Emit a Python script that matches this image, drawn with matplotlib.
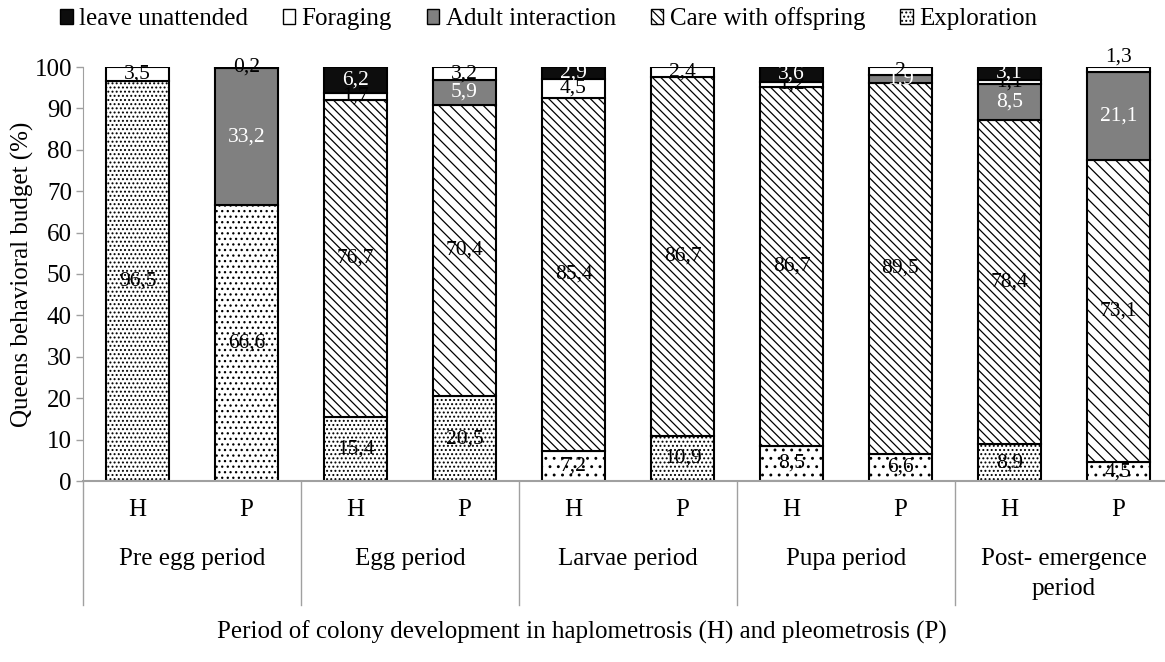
import numpy as np
import matplotlib
matplotlib.use('Agg')
import matplotlib.pyplot as plt
from matplotlib.patches import Patch
import matplotlib.transforms as mtrans

plt.rcParams['font.family'] = ['Liberation Serif', 'DejaVu Serif']
plt.rcParams['hatch.linewidth'] = 0.9

# data (%)
sub_labels = ['H', 'P'] * 5
periods = ['Pre egg period', 'Egg period', 'Larvae period', 'Pupa period',
           'Post- emergence\nperiod']
exploration = [96.5, 66.6, 15.4, 20.5, 7.2, 10.9, 8.5, 6.6, 8.9, 4.5]
care = [0, 0, 76.7, 70.4, 85.4, 86.7, 86.7, 89.5, 78.4, 73.1]
adult = [0, 33.2, 0, 5.9, 0, 0, 0, 1.9, 8.5, 21.1]
foraging = [3.5, 0, 1.7, 3.2, 4.5, 2.4, 1.2, 2, 1.1, 1.3]
leave = [0, 0.2, 6.2, 0, 2.9, 0, 3.6, 0, 3.1, 0]

# hatch per bar (density differs in the original)
expl_hatch = ['....', '...', '....', '....', '..', '....', '..', '..', '....', '..']
care_hatch = ['\\\\\\\\'] * 10
care_hatch[3] = '\\\\\\'
care_hatch[9] = '\\\\\\'

fs = 18      # axis / legend text
fs_val = 15.5  # value labels

fig = plt.figure(figsize=(11.65, 6.62), dpi=100)
ax = fig.add_axes([83/1165, 1-481/662, 1090/1165, 414/662])

x = np.arange(10)
w = 0.58
series = [('Exploration', exploration, 'white', 'black'),
          ('Care with offspring', care, 'white', 'black'),
          ('Adult interaction', adult, '#808080', 'white'),
          ('Foraging', foraging, 'white', 'black'),
          ('leave unattended', leave, '#0d0d0d', 'white')]

bottom = np.zeros(10)
for name, vals, col, tcol in series:
    vals = np.array(vals, dtype=float)
    for i in range(10):
        if vals[i] <= 0:
            continue
        h = None
        if name == 'Exploration':
            h = expl_hatch[i]
        elif name == 'Care with offspring':
            h = care_hatch[i]
        ax.bar(x[i], vals[i], w, bottom=bottom[i], color=col, edgecolor='black',
               linewidth=1.5, hatch=h, zorder=2)
        ypos = bottom[i] + vals[i]/2
        if name == 'Foraging' and i == 9:
            ypos = 102.3
        if name == 'leave unattended' and i == 1:
            tcol_i = 'black'
        else:
            tcol_i = tcol
        lab = ('%g' % vals[i]).replace('.', ',')
        ax.text(x[i], ypos, lab, ha='center', va='center', fontsize=fs_val,
                color=tcol_i, zorder=3)
    bottom += vals

ax.set_ylim(0, 100)
ax.set_xlim(-0.5, 9.5)
ax.set_yticks(np.arange(0, 101, 10))
ax.tick_params(axis='y', labelsize=fs, color='#a0a0a0', length=5, width=1, pad=3)
ax.set_ylabel('Queens behavioral budget (%)', fontsize=fs, labelpad=0)
for s in ['top', 'right']:
    ax.spines[s].set_visible(False)
ax.spines['left'].set_color('#a0a0a0')
ax.spines['bottom'].set_color('#a0a0a0')
ax.spines['bottom'].set_linewidth(1.5)

ax.set_xticks(x)
ax.set_xticklabels(sub_labels, fontsize=fs)
ax.tick_params(axis='x', length=0, pad=13)

trans = mtrans.blended_transform_factory(ax.transData, ax.transAxes)
for sep in np.arange(-0.5, 10, 2):
    ax.plot([sep, sep], [0, -0.30], transform=trans, color='#a0a0a0',
            linewidth=1, clip_on=False)
for k, p in enumerate(periods):
    ax.text(2*k + 0.5, -(548-481)/414, p, transform=trans, ha='center', va='top',
            fontsize=fs, linespacing=1.5)

fig.text(582/1165, 1-632/662, 'Period of colony development in haplometrosis (H) and pleometrosis (P)',
         ha='center', va='center', fontsize=fs)

handles = [Patch(facecolor='#0d0d0d', edgecolor='black', label='leave unattended'),
           Patch(facecolor='white', edgecolor='black', label='Foraging'),
           Patch(facecolor='#808080', edgecolor='black', label='Adult interaction'),
           Patch(facecolor='white', edgecolor='black', hatch='\\\\\\\\', label='Care with offspring'),
           Patch(facecolor='white', edgecolor='black', hatch='....', label='Exploration')]
fig.legend(handles=handles, loc='center left', bbox_to_anchor=(60/1165, 1-19/662),
           ncol=5, frameon=False, fontsize=fs, handlelength=0.5, handleheight=0.5,
           handletextpad=0.25, columnspacing=1.4, borderaxespad=0, borderpad=0)

fig.savefig('out.png', dpi=100)
